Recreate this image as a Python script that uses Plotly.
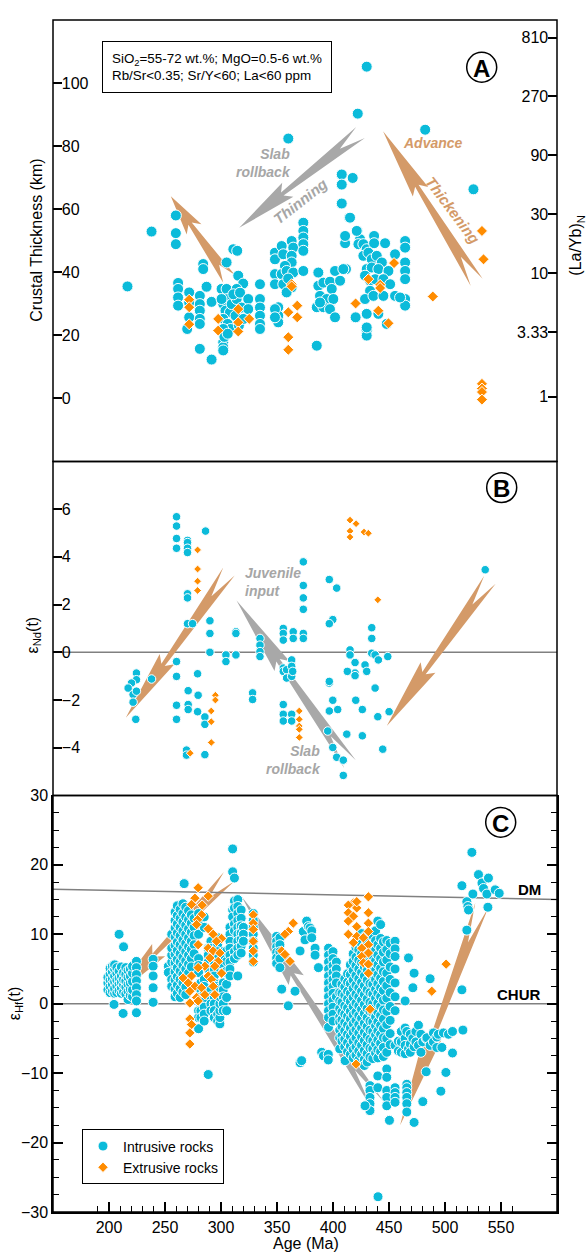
import plotly.graph_objects as go

# ---------------- DATA ----------------
# Panel A: crustal thickness (km) vs age (Ma)
ct_intrusive = [
 (216.5,35.5),(238,52.9),(259.7,58.0),(259.7,52.4),(259.7,48.9),
 (261.7,36.6),(261.7,34.7),(261.7,32.0),(261.7,29.4),
 (271.6,33.6),(271.6,30.4),(271.6,25.7),(269.8,22.0),
 (281.1,32.5),(281.1,29.9),(281.1,27.8),(281.1,25.2),(281.1,23.6),
 (284.1,42.6),(284.1,41.0),(287.1,35.4),(291.6,30.6),(281.1,15.7),(291.6,12.3),
 (302,17.8),(302,16.2),(302,15.2),(305,43.1),
 (300.5,34.7),(305,34.7),(306,31.5),(302,29.9),(304,27.8),(308,27.3),(302,25.2),(306,23.6),
 (308.5,22.0),(302,22.0),(300.5,31.5),(309.5,29.9),(303,19.5),(306,20.5),
 (311,47.3),(314.5,46.8),(315.4,38.9),(319.8,36.4),
 (314,34.7),(314,31.5),(318.5,28.8),(313,26.2),(316,23.1),(320,25.2),(311,33.0),(317,33.5),
 (324.3,31.5),(324.3,28.3),
 (334.8,36.2),(334.8,31.5),(334.8,28.8),(334.8,26.2),(334.8,23.6),(334.8,22.0),
 (348.2,46.2),(348.2,44.1),(354.2,48.3),(355.6,45.7),(363.1,49.9),(364.5,47.8),(363.1,45.2),
 (363.1,43.1),(357.1,42.0),(348.2,39.4),(354.2,39.4),(358.6,40.4),(364.5,39.9),(348.2,36.2),
 (355.6,36.2),(363.1,35.2),(358.6,33.6),(360,38.0),
 (373.5,55.7),(373.5,53.1),(373.5,51.0),(373.5,48.9),(373.5,46.8),(373.5,40.4),
 (351.1,28.9),(351.1,26.2),(351.1,24.1),(348.2,28.3),(348.2,25.7),
 (360.1,82.4),(385.5,16.7),
 (407.8,71.0),(417.6,69.9),(407.8,67.8),(407.8,61.8),(414.6,57.3),(422.1,90.3),(430.1,105.2),
 (482.3,85.2),(525.4,66.3),
 (421.8,53.1),(424.2,50.5),(422.7,48.9),(427.1,48.9),(430.1,47.3),(436.7,51.5),(436.7,49.2),
 (446.5,49.2),(455.4,45.7),
 (464.4,49.9),(464.4,47.8),(464.4,43.1),(464.4,40.4),(464.4,37.8),(464.4,31.5),(464.4,29.4),
 (411.6,41.0),(410.8,49.2),(410.8,51.5),
 (386.9,39.9),(386.9,35.7),(391.4,36.7),(397.3,37.0),(398.9,34.7),(401.8,40.4),(406.3,37.3),
 (388.4,32.5),(394.4,31.5),(400.3,31.5),(385.5,28.9),(391.4,28.9),(397.3,28.3),(401.8,25.7),
 (409.2,41.0),(388.4,30.4),
 (427.1,45.2),(431.6,46.2),(434.6,44.1),(439.1,45.2),(443.6,43.1),(430.1,41.0),(434.6,41.5),
 (440.5,41.0),(449.5,40.4),(428.6,38.9),(433.1,37.3),(437.6,37.8),(445,37.8),(451,36.2),
 (455.4,32.5),(433.1,34.1),(428.6,31.5),(436.1,32.5),(445,32.5),(459.9,32.0),(430.1,26.8),
 (440.5,26.8),(430.1,21.5),(430.1,19.9),(420.2,25.7),(448,23.6),(430.1,22.5),
 (415.2,57.3),(421.2,53.1),
]
ct_extrusive = [
 (271.6,31.3),(271.6,28.9),(271.6,23.5),(297.5,25.2),(297.5,21.5),(315.4,28.3),(315.4,24.1),
 (315.4,21.2),(325.2,25.2),(363.1,36.2),(363.1,35.5),(360.1,27.3),(368.1,29.4),(368.1,25.7),
 (360.1,19.4),(360.1,15.4),(454.5,42.9),(431.6,37.8),(442.1,36.0),(442.1,35.0),(420.2,30.1),
 (440.5,27.8),(449.5,23.8),(489.1,32.3),(533,53.1),(534.4,44.1),(533,4.6),(533,3.1),
 (533,2.0),(533,-0.4),
]
# right-hand axis of panel A: (La/Yb)N ticks
layb_ticks = [1, 3.33, 10, 30, 90, 270, 810]
layb_labels = ['1', '3.33', '10', '30', '90', '270', '810']

# Panel B: eNd(t) vs age
nd_intrusive = [
 (260.3,5.68),(260.3,5.29),(260.3,4.77),(260.3,4.36),
 (270.1,4.69),(270.1,4.6),(270.1,4.36),(270.1,4.18),
 (286.2,5.08),(270.1,2.45),(270.1,2.28),(270.1,1.2),(274.6,1.2),
 (290.1,1.32),(290.1,0.79),(290.1,0.0),
 (304.4,-0.11),(304.4,-0.39),(313.3,0.86),(313.3,0.79),(313.3,-0.11),
 (334.8,0.58),(334.8,0.30),(334.8,0.03),(334.8,-0.18),
 (328.2,-1.70),(328.2,-1.98),
 (355.6,1.0),(355.6,0.79),(355.6,0.51),(364.5,0.86),(364.5,0.58),(373.5,0.79),(373.5,0.58),
 (355.6,-0.66),(355.6,-0.8),(358.6,-0.73),(358.6,-1.08),(363.1,-0.32),(363.1,-0.59),
 (363.1,-1.01),(364,-0.8),
 (355.6,-2.19),(355.6,-2.6),(355.6,-2.88),(363.1,-2.6),(363.1,-2.88),
 (224.5,-0.87),(224.5,-1.15),(220.1,-1.29),(217.1,-1.5),(221.5,-1.77),(221.5,-2.09),
 (224.5,-1.63),(238,-1.12),(223.9,-2.81),
 (260.3,-0.39),(260.3,-1.01),(260.3,-2.22),(260.3,-2.81),(279.1,-0.9),
 (270.7,-1.61),(270.7,-2.19),(270.7,-2.4),(279.6,-1.8),(279.1,-2.49),(285.6,-2.71),(285.6,-3.02),
 (269.2,-4.1),(269.2,-4.31),(285.6,-4.29),
 (373.5,3.79),(373.5,2.8),(373.5,2.28),(373.5,1.8),
 (396.7,3.05),(403.3,2.69),(399.8,1.37),(396.7,1.2),
 (396.7,-1.29),(396.7,-1.22),(399.8,-2.01),(404.2,-2.4),(396.7,-2.46),(395.3,-3.3),
 (399.8,-3.99),(403.3,-4.4),(409.2,-4.52),(409.2,-5.16),
 (415.2,0.1),(415.2,-0.11),(419.7,-0.43),(419.7,-0.87),(419.7,-0.98),(428.6,-0.53),
 (430.1,-0.8),(412.8,-0.8),(434.6,1.03),(434.6,0.58),(434.6,-0.04),(437.6,-0.11),
 (440.5,-0.32),(448.9,-0.18),(437.6,-1.5),(420.3,-2.01),(426.2,-2.4),(440,-2.7),
 (450.1,-2.49),(412.3,-3.43),(426.2,-3.5),(444.4,-4.06),(535.9,3.46),
]
nd_extrusive = [
 (279.1,4.29),(279.1,3.49),(279.1,2.98),(279.1,2.59),(295,-1.8),(295,-2.0),(291.3,-2.46),
 (291.3,-2.91),(291.3,-3.78),(272.5,-4.23),(369.9,-2.46),(369.9,-2.81),(369.9,-3.09),
 (369.9,-3.23),(369.9,-3.57),(415.2,5.54),(420.6,5.39),(415.2,5.08),(415.2,4.83),
 (427.7,5.04),(431.6,4.99),(440,2.2),
]

# Panel C: eHf(t) vs age; intrusive rocks as (age, [eHf values]) columns
hf_intrusive = [
 (199,[2.0,3.0,3.8]),(201,[1.6,2.5,3.4,4.3,5.1]),(203,[1.8,2.8,3.6,4.6,5.4]),
 (205,[1.5,2.2,3.2,4.0,5.0,5.6]),(207,[1.6,2.6,3.4,4.4,5.2]),(209,[1.9,2.9,3.7,4.7,10.0]),
 (211,[1.5,2.3,3.1,4.0,5.3]),(213,[1.7,2.7,3.5,4.5,8.2]),(215,[1.4,2.4,3.3,4.2,5.2]),
 (217,[0.6,1.8,2.8,3.8,4.8]),(219,[1.2,2.1,3.0,4.0,5.0]),(221,[1.0,2.0,3.2,4.4,5.4]),
 (224.5,[6.1,5.2,4.2,3.3,2.3,1.3,0.4,-1.3]),(204.5,[-0.1]),(212.6,[-1.4]),
 (239.4,[6.4,5.4,4.0,2.3,0.2]),
 (253,[5.4,4.5]),(256,[6.0,7.0,8.0,10.0,3.5,2.5]),
 (259,[13.2,12.0,10.9,9.6,8.4,7.1,5.9,4.6,3.4,2.1,1.0]),
 (261,[14.1,12.7,11.5,10.2,8.9,7.7,6.4,5.2,3.9,2.7,1.5]),
 (263.5,[13.6,12.3,11.0,9.8,8.5,7.2,6.0,4.7,3.5,2.2,0.9]),
 (266,[14.4,13.0,11.8,10.5,9.2,8.0,6.7,5.5,4.2,3.0,1.7]),
 (267.1,[17.3]),
 (268.5,[13.9,12.5,11.3,10.0,8.7,7.5,6.2,5.0,3.7,2.4,1.3]),
 (271,[13.4,12.1,10.8,9.5,8.2,7.0,5.7,4.4]),
 (273.5,[12.8,11.6,10.3,9.0,7.8,6.5,5.3]),(276,[12.3,11.0,9.8,8.5,7.2]),
 (280,[13.0,12.0,10.0,6.5,5.5,4.5,-1.0,-2.0,-3.6]),(282,[3.0,2.0,1.0,0.0,-1.0,-2.0]),
 (285,[12.5,11.0,3.5,2.5,1.5,0.5,-0.5,-1.5,-2.5]),(288.6,[-10.2,8.0,7.0,6.0,5.0]),
 (291,[9.0,8.0,2.0,1.0,0.0,-1.0]),(294,[6.0,5.0,4.0,3.0,1.0,0.0,-1.0,-2.0]),
 (297,[9.5,8.5,7.5,6.5,2.5,-1.5,-2.5]),(299,[-2.9,-2.0,-1.0,0.0,1.0,2.3]),
 (302,[7.5,6.5,5.5,4.5,3.0,2.0,1.0,0.0,-1.0]),(305,[7.6,6.1,4.7,2.8,0.9,-1.0]),
 (308,[11.0,10.0,9.0,8.0,7.0,6.0,5.0,4.0]),(310.4,[22.3,19.0,13.5,12.5]),
 (312,[18.1,14.8,13.8,11.5,10.5,7.5,6.5]),
 (315,[15.0,14.0,13.0,12.0,11.0,10.0,9.0,8.0,7.0,4.0]),
 (318,[13.5,12.3,11.2,10.2,9.3,8.3,7.3]),(320,[11.0,10.0,9.0]),
 (328.8,[13.0,12.0,11.0,10.0,9.0,8.0,7.0,6.0]),
 (349.7,[9.7,9.0,8.2,7.4,6.6,5.8]),(352.6,[9.5,8.5,7.5,6.5,5.2]),
 (354.2,[2.1]),(360.1,[-0.3]),(366.1,[1.8]),(370.6,[-8.5,7.6]),(372,[-8.2]),
 (373.5,[10.4]),(375,[9.2]),(376.5,[11.9]),(378,[11.1]),(379.5,[10.9]),(381,[10.5,9.5]),
 (384,[8.0,7.0]),(387,[5.2]),(389.9,[-7.0]),(391.5,[-7.5]),(395.8,[-7.3,-8.1]),
 (396,[8.0,7.0,6.0,5.0,4.0,3.0,2.0,1.0,0.0,-1.0,-2.0,-3.4]),
 (400,[7.5,6.5,5.5,4.5,3.5,2.5,1.5,0.5,-0.5,-1.5,-2.5]),(403,[6.0,5.0,4.0,3.0,1.0]),
 (406,[1.6,0.4,-0.7,-1.9,-2.6,-3.8,-4.9,-6.5]),
 (408,[2.8,1.5,0.2,-1.2,-2.3,-3.3,-4.6,-5.4]),
 (410.5,[3.6,2.4,1.2,-0.3,-1.5,-2.7,-3.9,-5.1,-6.2]),(410.8,[-8.2]),
 (413,[4.3,3.1,1.8,0.7,-0.6,-1.8,-3.1,-4.4,-5.6,-6.9]),
 (415.5,[5.6,4.2,2.9,1.5,0.3,-1.1,-2.2,-3.5,-4.7,-6.1,-7.3]),
 (418,[7.2,6.1,4.8,3.4,2.2,0.9,-0.4,-1.6,-2.9,-4.1,-5.4,-6.6,-7.8]),
 (420.5,[8.1,6.7,5.5,4.1,2.7,1.4,0.1,-1.2,-2.4,-3.7,-4.9,-6.2,-7.4]),
 (423,[9.2,7.8,6.3,5.0,3.6,2.3,1.0,-0.3,-1.7,-3.0,-4.2,-5.6,-6.8,-8.1]),
 (425.5,[10.1,8.6,7.2,5.9,4.5,3.1,1.8,0.5,-0.8,-2.1,-3.5,-4.8,-6.0,-7.3]),
 (428,[9.6,8.2,6.8,5.3,4.0,2.6,1.3,-0.1,-1.4,-2.8,-4.1,-5.3,-6.7,-8.0,-8.9]),
 (430.5,[9.0,7.5,6.2,4.9,3.4,2.0,0.7,-0.7,-2.0,-3.3,-4.6,-5.9,-7.2,-8.4]),
 (433,[8.4,7.0,5.6,4.3,2.9,1.6,0.2,-1.1,-2.5,-3.8,-5.1,-6.4,-7.7,-11.8,-12.5,-13.5,-14.4,-15.4]),
 (435.5,[9.8,8.3,6.9,5.5,4.1,2.8,1.4,0.0,-1.3,-2.6,-4.0,-5.3,-6.5,-7.9]),
 (438,[10.5,9.1,7.7,6.2,4.8,3.5,2.1,0.8,-0.6,-1.9,-3.2,-4.5,-5.8,-7.1]),
 (440,[11.9,8.5,7.0,5.6,4.2,2.9,1.5,0.1,-1.2,-2.6,-3.9,-5.2,-6.6,-7.8,-10.4,-12.1]),
 (442.5,[11.4,9.4,8.0,6.5,5.1,3.7,2.3,1.0,-0.4,-1.7,-3.1,-4.4,-5.7,-6.9]),
 (445,[8.9,7.4,6.0,4.6,3.2,1.9,0.5,-0.9,-2.2,-3.6,-4.9,-6.3,-7.6]),
 (448,[9.1,7.8,6.3,4.4,2.6,0.8,-1.1,-3.0,-5.0,-7.0,-9.4,-10.6,-12.5,-13.5,-14.7]),
 (451,[8.7,7.2,5.3,3.5,1.6,-0.4,-2.4,-4.3,-5.9]),
 (455.4,[9.0,7.9,6.8,5.0,3.0,1.0,-1.0,-6.0,-12.1,-12.8,-13.5,-14.2]),
 (428.6,[-14.7]),(440.2,[-27.8]),(450.4,[-16.8]),
 (458.4,[-5.4,-6.8]),(461,[-4.0,-5.5,-7.0]),(464.4,[-3.5,-5.0,-6.0,-7.2,0.4]),
 (465.9,[-11.6,-12.1,-12.8,-13.5,-14.4,-15.6,-4.0]),(467.4,[6.6,-6.5]),
 (469,[-4.4,-5.8,-7.0]),(471.3,[2.3,-5.0]),(472.4,[4.4,-17.1,-6.2]),(474,[-5.5,-4.0]),
 (476.3,[-3.1,-6.0]),(478.5,[-4.4,-7.0]),(480.2,[-14.1,-5.5]),(483.2,[-9.8,-5.0]),
 (483.8,[-4.9]),(486.7,[3.6,-6.0]),(489.7,[-4.2,-5.5]),(492.7,[-6.3,-4.8]),(494.1,[-4.4]),
 (496.3,[-12.6]),(497.2,[-6.3]),(498.6,[-4.2]),(500.8,[-9.9]),(503.1,[-4.4]),
 (506.7,[-4.0,-7.1]),(515.1,[17.0,2.0]),(516,[-3.8]),(519.5,[14.7,10.6]),(520.4,[14.0]),
 (521,[13.5]),(524,[21.8]),(524.9,[15.8]),(529.9,[18.6]),(533,[17.4]),(534.4,[16.6]),
 (537.4,[15.8]),(538.3,[13.9]),(538.8,[18.1]),(544.8,[16.4]),(548.4,[15.9]),
]
hf_extrusive = [
 (279.6,16.7),(276.7,15.2),(288.6,15.5),(273.7,14.3),(283.2,14.2),(282.7,12.8),(279.1,12.1),
 (278.2,11.4),(288.6,10.8),(293,10.0),(300.5,9.4),(296,9.0),(279.6,8.5),(288.6,8.0),
 (293,7.6),(299,7.3),(290.1,6.6),(297.5,6.1),(285.6,5.4),(294.5,5.4),(279.6,5.2),(300.5,4.4),
 (288.6,4.0),(266.2,3.7),(273.7,4.0),(291.6,3.5),(270.7,3.0),(276.7,2.5),(282.7,2.3),
 (293,2.5),(272.2,1.8),(285.6,1.3),(278.2,0.9),(272.2,0.1),(279.6,0.4),(294.5,1.3),
 (272.2,-2.2),(273.7,-3.0),(272.2,-4.2),(272.2,-5.8),
 (328.8,12.8),(328.8,11.6),(328.8,10.7),(328.8,9.0),(328.8,7.6),(328.8,6.1),
 (364.5,11.6),(360.1,10.4),(357.1,10.0),(354.2,7.6),(357.1,7.1),(361.6,6.1),
 (431.6,15.4),(418.2,14.5),(413.7,14.2),(421.2,13.8),(413.7,13.1),(431.6,13.1),(418.2,12.6),
 (413.7,11.9),(431.6,11.6),(421.2,11.1),(431.6,10.4),(413.7,10.0),(421.2,9.7),(427.1,9.5),
 (418.2,8.8),(431.6,8.5),(425.7,8.0),(431.6,7.3),(425.7,6.8),(427.1,5.9),(431.6,5.7),
 (431.6,4.4),(421.2,14.7),(433.1,-0.8),(420.6,-8.7),(501,5.7),(488.2,1.8),
]
# reference lines in panel C
dm_age = [150, 600]
dm_ehf = [16.5, 15.0]

# ---------------- LAYOUT GEOMETRY ----------------
W, H = 586, 1253
ML, MR, MT, MB = 53, 29, 13, 41
PW, PH = W - ML - MR, H - MT - MB
A_TOP, A_BOT, B_BOT, C_BOT = 13, 457, 793, 1212
XR = [150, 600]
YA, YB, YC = [-20, 120], [-6, 8], [-30, 30]
Y4R = [-0.526, 3.051]


def dom(top, bot):
    return [(C_BOT - bot) / PH, (C_BOT - top) / PH]


def PX(px):
    return (px - ML) / PW


def PY(py):
    return (C_BOT - py) / PH


CYAN = '#0BBBDA'
ORANGE = '#FF8C00'
TAN = '#D49A68'
GREY = '#A8A8A8'
FONT = 'Liberation Sans, Arial, sans-serif'

fig = go.Figure()


def add_pts(pts, yaxis, color, symbol, size, name=None, legend=False):
    fig.add_trace(go.Scatter(
        x=[p[0] for p in pts], y=[p[1] for p in pts], yaxis=yaxis, mode='markers',
        marker=dict(color=color, symbol=symbol, size=size, line=dict(color='white', width=1)),
        name=name, showlegend=legend, hoverinfo='skip'))


add_pts(ct_intrusive, 'y3', CYAN, 'circle', 11)
add_pts(ct_extrusive, 'y3', ORANGE, 'diamond', 8.5)
# invisible anchor trace so the (La/Yb)N axis gets drawn
fig.add_trace(go.Scatter(x=[XR[0]], y=[layb_ticks[0]], yaxis='y4', mode='markers',
                         marker=dict(opacity=0), showlegend=False, hoverinfo='skip'))
add_pts(nd_intrusive, 'y2', CYAN, 'circle', 8.5)
add_pts(nd_extrusive, 'y2', ORANGE, 'diamond', 6)

hx = [a for a, ys in hf_intrusive for _ in ys]
hy = [v for a, ys in hf_intrusive for v in ys]
fig.add_trace(go.Scatter(x=dm_age, y=dm_ehf, yaxis='y', mode='lines',
                         line=dict(color='#808080', width=1.5), showlegend=False, hoverinfo='skip'))
fig.add_trace(go.Scatter(x=hx, y=hy, yaxis='y', mode='markers', name='Intrusive rocks',
                         marker=dict(color=CYAN, symbol='circle', size=10, line=dict(color='white', width=1)),
                         hoverinfo='skip'))
add_pts(hf_extrusive, 'y', ORANGE, 'diamond', 8, name='Extrusive rocks', legend=True)

# ---------------- ARROWS (barbed "lightning" arrows) ----------------
SX = PW / (XR[1] - XR[0])
SYA = (A_BOT - A_TOP) / (YA[1] - YA[0])
SYB = (B_BOT - A_BOT) / (YB[1] - YB[0])
SYC = (C_BOT - B_BOT) / (YC[1] - YC[0])


def lightning(T, E, sy, color, yref):
    tx, ty = T[0] * SX, T[1] * sy
    ex, ey = E[0] * SX, E[1] * sy
    dx, dy = ex - tx, ey - ty
    L = (dx * dx + dy * dy) ** 0.5
    ux, uy = dx / L, dy / L
    nx, ny = -uy, ux

    def P(a, p):
        return ((tx + a * ux + p * nx) / SX, (ty + a * uy + p * ny) / sy)

    hb = 0.40 * L
    pts = [P(0, 0), P(hb, 9), P(hb - 7, 2), P(L, 7), P(0.83 * L, 0), P(L, -7), P(hb - 7, -2), P(hb, -9)]
    path = 'M ' + ' L '.join(f'{x:.3f},{y:.4f}' for x, y in pts) + ' Z'
    return dict(type='path', path=path, xref='x', yref=yref, fillcolor=color,
                line=dict(width=0), layer='below')


shapes = [
    lightning((316.3, 54.1), (424.6, 84.3), SYA, GREY, 'y3'),
    lightning((255.2, 64.1), (307.1, 37.9), SYA, TAN, 'y3'),
    lightning((444.7, 84.7), (528.3, 36.8), SYA, TAN, 'y3'),
    lightning((215.0, -2.74), (307.1, 3.39), SYB, TAN, 'y2'),
    lightning((313.9, 2.17), (415.2, -4.69), SYB, GREY, 'y2'),
    lightning((448.0, -3.09), (540.1, 3.04), SYB, TAN, 'y2'),
    lightning((202.5, 0.67), (307.1, 18.3), SYC, TAN, 'y'),
    lightning((318.4, 15.45), (440.3, -14.7), SYC, GREY, 'y'),
    lightning((459.9, -17.5), (532.9, 14.2), SYC, TAN, 'y'),
]
# zero / CHUR lines
shapes.append(dict(type='line', xref='paper', x0=0, x1=1, yref='y2', y0=0, y1=0,
                   line=dict(color='#808080', width=1.5), layer='below'))
shapes.append(dict(type='line', xref='paper', x0=0, x1=1, yref='y', y0=0, y1=0,
                   line=dict(color='#808080', width=1.5), layer='below'))
# panel frames
for top, bot in [(A_TOP, A_BOT), (A_BOT, B_BOT), (B_BOT, C_BOT)]:
    shapes.append(dict(type='rect', xref='paper', yref='paper', x0=0, x1=1, y0=PY(bot), y1=PY(top),
                       line=dict(color='black', width=1.5), fillcolor='rgba(0,0,0,0)', layer='above'))
# circled panel letters
letters = [('A', 481.7, 60.5), ('B', 501.7, 483.3), ('C', 500.7, 820)]
for _, cx, cy in letters:
    shapes.append(dict(type='circle', xref='paper', yref='paper', x0=PX(cx - 15), x1=PX(cx + 15),
                       y0=PY(cy + 15), y1=PY(cy - 15), line=dict(color='black', width=1.5)))

anns = []


def ann(text, px, py, size=14, color='black', xanchor='center', align='center', angle=0, **kw):
    d = dict(text=text, x=PX(px), y=PY(py), xref='paper', yref='paper', showarrow=False,
             xanchor=xanchor, yanchor='middle', align=align, textangle=angle,
             font=dict(size=size, color=color, family=FONT))
    d.update(kw)
    anns.append(d)


for t, cx, cy in letters:
    ann(f'<b>{t}</b>', cx, cy + 1, size=24)

# axis titles
ann('Crustal Thickness (km)', 37, 235, size=16, angle=-90)
ann('(La/Yb)<sub>N</sub>', 577, 240, size=16, angle=-90)
ann('ε<sub>Nd</sub>(t)', 33, 632, size=16, angle=-90)
ann('ε<sub>Hf</sub>(t)', 15, 1003, size=16, angle=-90)
ann('Age (Ma)', 306, 1244, size=16)

# panel A text
anns.append(dict(text='SiO<sub>2</sub>=55-72 wt.%; MgO=0.5-6 wt.%<br>Rb/Sr<0.35; Sr/Y<60; La<60 ppm',
                 x=PX(102), y=PY(34), xref='paper', yref='paper', showarrow=False,
                 xanchor='left', yanchor='top', align='left', bordercolor='black', borderwidth=1,
                 borderpad=9, bgcolor='white', font=dict(size=13.4, family=FONT, color='black')))
ann('<b><i>Slab<br>rollback</i></b>', 293, 157, size=14, color='#A6A6A6', xanchor='right', align='right')
ann('<b><i>Thinning</i></b>', 300, 196, size=15, color='#A6A6A6', angle=-38)
ann('<b><i>Advance</i></b>', 433, 137, size=14, color=TAN)
ann('<b><i>Thickening</i></b>', 452, 204, size=15, color=TAN, angle=53)
# panel B text
ann('<b><i>Juvenile<br>input</i></b>', 243, 578, size=14, color='#A6A6A6', xanchor='left', align='left')
ann('<b><i>Slab<br>rollback</i></b>', 323, 757, size=14, color='#A6A6A6', xanchor='right', align='right')
# panel C text
ann('<b>DM</b>', 543, 888, size=15, xanchor='right')
ann('<b>CHUR</b>', 542, 993, size=15, xanchor='right')

tickfont = dict(size=16, color='black', family=FONT)
yin = dict(ticks='inside', ticklen=9, tickwidth=1.5, tickcolor='black', ticklabelposition='inside',
           showgrid=False, zeroline=False, showline=False, tickfont=tickfont)

fig.update_layout(
    width=W, height=H, margin=dict(l=ML, r=MR, t=MT, b=MB),
    paper_bgcolor='white', plot_bgcolor='white',
    font=dict(family=FONT, color='black'),
    showlegend=True,
    legend=dict(x=PX(82), y=PY(1129), xanchor='left', yanchor='top', bgcolor='white',
                bordercolor='black', borderwidth=1, font=dict(size=14, family=FONT), tracegroupgap=0),
    xaxis=dict(domain=[0, 1], range=XR, anchor='y', tickmode='array',
               tickvals=[200, 250, 300, 350, 400, 450, 500, 550], ticks='inside', ticklen=10,
               tickwidth=1.5, tickcolor='black', showgrid=False, zeroline=False, showline=True,
               linecolor='black', linewidth=1.5, tickfont=tickfont,
               minor=dict(tickmode='linear', tick0=150, dtick=10, ticks='inside', ticklen=6,
                          tickwidth=1.2, tickcolor='black', showgrid=False)),
    yaxis=dict(domain=dom(B_BOT, C_BOT), range=YC, anchor='x', tickmode='linear', tick0=-30, dtick=10,
               ticks='inside', ticklen=10, tickwidth=1.5, tickcolor='black', showgrid=False,
               zeroline=False, showline=True, linecolor='black', linewidth=1.5, mirror='ticks',
               tickfont=tickfont,
               minor=dict(dtick=2.5, ticks='inside', ticklen=6, tickwidth=1.2, tickcolor='black',
                          showgrid=False)),
    yaxis2=dict(domain=dom(A_BOT, B_BOT), range=YB, anchor='x', tickmode='array',
                tickvals=[-4, -2, 0, 2, 4, 6], **yin),
    yaxis3=dict(domain=dom(A_TOP, A_BOT), range=YA, anchor='x', tickmode='array',
                tickvals=[0, 20, 40, 60, 80, 100], **yin),
    yaxis4=dict(overlaying='y3', side='right', anchor='x', type='log', range=Y4R, tickmode='array',
                tickvals=layb_ticks, ticktext=layb_labels, **yin),
    shapes=shapes, annotations=anns,
)

fig.write_html('out.html')
